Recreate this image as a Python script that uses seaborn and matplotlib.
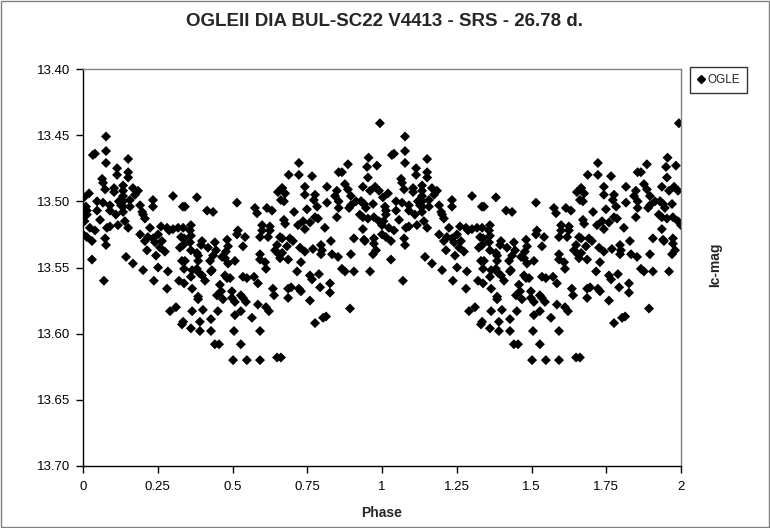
import numpy as np
import pandas as pd
import matplotlib
matplotlib.use("Agg")
import matplotlib.pyplot as plt
import seaborn as sns

# ── Data (phase 0-1; shown twice over 0-2) ──────────────────────────────
PHASE = [
    0.010, 0.013, 0.013, 0.020, 0.023, 0.013, 0.030, 0.033, 0.040, 0.030, 0.047, 0.047, 0.040, 0.057,
    0.064, 0.067, 0.067, 0.074, 0.070, 0.077, 0.077, 0.077, 0.074, 0.077, 0.080, 0.090, 0.090, 0.090,
    0.003, 0.005, 0.000,
    0.104, 0.104, 0.114, 0.114, 0.117, 0.127, 0.134, 0.134, 0.134, 0.134, 0.134, 0.134, 0.144, 0.151,
    0.151, 0.151, 0.151, 0.157, 0.157, 0.167, 0.167, 0.174, 0.184, 0.191, 0.191, 0.198, 0.120, 0.140,
    0.110,
    0.201, 0.201, 0.207, 0.207, 0.214, 0.217, 0.224, 0.234, 0.234, 0.234, 0.237, 0.241, 0.244, 0.251,
    0.251, 0.258, 0.261, 0.264, 0.274, 0.281, 0.281, 0.284, 0.288, 0.291, 0.301, 0.301, 0.311, 0.318,
    0.321, 0.328, 0.331, 0.331, 0.334, 0.324,
    0.381, 0.341, 0.415, 0.435, 0.335, 0.338, 0.335, 0.358, 0.361, 0.361, 0.358, 0.398, 0.395, 0.418,
    0.361, 0.381, 0.385, 0.441, 0.445, 0.435, 0.425, 0.428, 0.341, 0.338, 0.365, 0.361, 0.385, 0.381,
    0.398, 0.408, 0.388, 0.431, 0.338, 0.365, 0.385, 0.385, 0.365, 0.401, 0.451, 0.335, 0.361, 0.391,
    0.391, 0.428, 0.428, 0.441,
    0.515, 0.575, 0.582, 0.615, 0.632, 0.652, 0.666, 0.662, 0.518, 0.515, 0.542, 0.482, 0.485, 0.478,
    0.535, 0.599, 0.599, 0.592, 0.625, 0.625, 0.619, 0.659, 0.649, 0.642, 0.655, 0.659, 0.592, 0.592,
    0.609, 0.612, 0.465, 0.475, 0.485, 0.508, 0.475, 0.482, 0.492, 0.458, 0.448, 0.468, 0.462, 0.498,
    0.498, 0.508, 0.528, 0.535, 0.545, 0.535, 0.548, 0.572, 0.585, 0.585, 0.612, 0.635, 0.639, 0.528,
    0.508, 0.565, 0.622, 0.505, 0.592, 0.455, 0.528, 0.502, 0.548, 0.592, 0.649,
    0.993, 0.722, 0.688, 0.722, 0.766, 0.886, 0.955, 0.950, 0.983, 0.855, 0.866, 0.953, 0.666, 0.676,
    0.672, 0.742, 0.742, 0.776, 0.772, 0.816, 0.849, 0.843, 0.876, 0.886, 0.896, 0.936, 0.930, 0.960,
    0.977, 0.990, 0.816, 0.855, 0.855, 0.896, 0.890, 0.913, 0.930, 0.940, 0.946, 0.970, 0.706, 0.749,
    0.783, 0.672, 0.676, 0.719, 0.736, 0.759, 0.742, 0.776, 0.786, 0.809, 0.849, 0.926, 0.936, 0.953,
    0.973, 0.990, 1.000, 0.936, 0.666, 0.692, 0.702, 0.682, 0.666, 0.726, 0.742, 0.769, 0.796, 0.799,
    0.796, 0.829, 0.833, 0.853, 0.896, 0.906, 0.940, 0.973, 0.973, 0.980, 0.970, 0.943, 0.686, 0.729,
    0.716, 0.759, 0.766, 0.789, 0.866, 0.876, 0.906, 0.960, 0.686, 0.696, 0.722, 0.729, 0.686, 0.793,
    0.826, 0.826, 0.759, 0.893, 0.776, 0.803, 0.813, 0.662,
]
MAG = [
    13.504, 13.507, 13.510, 13.494, 13.520, 13.527, 13.530, 13.465, 13.464, 13.544, 13.500, 13.507, 13.522, 13.514,
    13.483, 13.486, 13.501, 13.491, 13.560, 13.451, 13.462, 13.471, 13.528, 13.533, 13.520, 13.503, 13.507, 13.519,
    13.497, 13.515, 13.525,
    13.490, 13.493, 13.475, 13.480, 13.518, 13.503, 13.488, 13.492, 13.496, 13.500, 13.504, 13.508, 13.542, 13.468,
    13.478, 13.482, 13.520, 13.499, 13.504, 13.490, 13.547, 13.495, 13.492, 13.503, 13.525, 13.508, 13.500, 13.515,
    13.510,
    13.552, 13.510, 13.513, 13.530, 13.537, 13.527, 13.520, 13.499, 13.504, 13.528, 13.560, 13.531, 13.541, 13.550,
    13.525, 13.535, 13.519, 13.530, 13.538, 13.566, 13.520, 13.553, 13.522, 13.583, 13.496, 13.521, 13.580, 13.520,
    13.560, 13.527, 13.545, 13.593, 13.504, 13.535,
    13.497, 13.504, 13.507, 13.508, 13.520, 13.528, 13.533, 13.522, 13.518, 13.526, 13.531, 13.530, 13.533, 13.535,
    13.537, 13.539, 13.541, 13.531, 13.537, 13.541, 13.545, 13.553, 13.545, 13.551, 13.552, 13.557, 13.545, 13.551,
    13.556, 13.560, 13.554, 13.552, 13.562, 13.566, 13.572, 13.574, 13.583, 13.582, 13.583, 13.591, 13.596, 13.591,
    13.598, 13.589, 13.598, 13.608,
    13.501, 13.505, 13.509, 13.505, 13.507, 13.493, 13.490, 13.499, 13.522, 13.525, 13.527, 13.529, 13.534, 13.538,
    13.534, 13.518, 13.522, 13.527, 13.519, 13.522, 13.527, 13.527, 13.533, 13.537, 13.540, 13.543, 13.540, 13.544,
    13.546, 13.551, 13.542, 13.543, 13.547, 13.545, 13.556, 13.558, 13.558, 13.563, 13.571, 13.574, 13.568, 13.568,
    13.573, 13.576, 13.571, 13.573, 13.576, 13.557, 13.558, 13.557, 13.562, 13.578, 13.580, 13.566, 13.571, 13.583,
    13.586, 13.588, 13.583, 13.598, 13.598, 13.608, 13.608, 13.620, 13.620, 13.620, 13.618,
    13.441, 13.471, 13.480, 13.480, 13.481, 13.472, 13.467, 13.474, 13.473, 13.478, 13.478, 13.482, 13.490, 13.494,
    13.500, 13.489, 13.495, 13.495, 13.499, 13.489, 13.492, 13.496, 13.487, 13.491, 13.496, 13.489, 13.500, 13.492,
    13.489, 13.492, 13.501, 13.500, 13.505, 13.503, 13.505, 13.500, 13.500, 13.502, 13.505, 13.502, 13.508, 13.506,
    13.504, 13.514, 13.517, 13.518, 13.515, 13.516, 13.521, 13.512, 13.513, 13.520, 13.512, 13.510, 13.512, 13.513,
    13.512, 13.515, 13.518, 13.521, 13.528, 13.528, 13.530, 13.534, 13.539, 13.535, 13.538, 13.536, 13.533, 13.537,
    13.540, 13.530, 13.540, 13.542, 13.540, 13.528, 13.529, 13.528, 13.532, 13.537, 13.540, 13.530, 13.544, 13.546,
    13.553, 13.556, 13.559, 13.555, 13.551, 13.553, 13.553, 13.553, 13.566, 13.565, 13.566, 13.568, 13.573, 13.565,
    13.562, 13.569, 13.575, 13.581, 13.592, 13.588, 13.587, 13.618,
]

X_TICKS = [0, 0.25, 0.5, 0.75, 1, 1.25, 1.5, 1.75, 2]
X_TICK_LABELS = ["0", "0.25", "0.5", "0.75", "1", "1.25", "1.5", "1.75", "2"]
Y_TICKS = [13.40, 13.45, 13.50, 13.55, 13.60, 13.65, 13.70]

# two cycles, as in the original phase plot
df = pd.DataFrame({"phase": PHASE, "mag": MAG})
df = pd.concat([df, df.assign(phase=df["phase"] + 1)], ignore_index=True)

# ── Style ──────────────────────────────────────────────────────────────
sns.set_theme(style="white")
plt.rcParams["font.family"] = ["Liberation Sans", "DejaVu Sans"]

fig = plt.figure(figsize=(7.7, 5.28), dpi=100)
ax = fig.add_axes([83 / 770, 1 - 466 / 528, 598 / 770, 397 / 528])

sns.scatterplot(data=df, x="phase", y="mag", ax=ax, marker="D", s=26,
                color="black", edgecolor="none", legend=False)

ax.set_xlim(0, 2)
ax.set_ylim(13.70, 13.40)
ax.set_xticks(X_TICKS)
ax.set_xticklabels(X_TICK_LABELS)
ax.set_yticks(Y_TICKS)
ax.set_yticklabels([f"{v:.2f}" for v in Y_TICKS])
ax.tick_params(axis="both", direction="out", length=5, width=1, colors="black",
               labelsize=9.5, left=True, bottom=True)
ax.tick_params(axis="x", pad=6)
ax.tick_params(axis="y", pad=4)

for side in ["left", "bottom"]:
    ax.spines[side].set_color("black")
    ax.spines[side].set_linewidth(1)
for side in ["top", "right"]:
    ax.spines[side].set_color("#808080")
    ax.spines[side].set_linewidth(1)

ax.set_xlabel("Phase", fontsize=10, fontweight="bold", labelpad=9)
ax.set_ylabel("")
fig.text(715 / 770, 1 - 265 / 528, "Ic-mag", rotation=90, ha="center", va="center",
         fontsize=10, fontweight="bold")

fig.suptitle("OGLEII DIA BUL-SC22 V4413 - SRS - 26.78 d.", x=0.5, y=1 - 22 / 528,
             va="center", fontsize=13.5, fontweight="bold")

# legend box
handles = [plt.Line2D([], [], marker="D", color="black", linestyle="none", markersize=4)]
fig.legend(handles, ["OGLE"], loc="upper left", bbox_to_anchor=(690 / 770, 1 - 67 / 528),
           frameon=True, fancybox=False, edgecolor="black", fontsize=8.5,
           handlelength=0.6, handletextpad=0.25, borderpad=0.6, borderaxespad=0)

# outer border
fig.patches.append(plt.Rectangle((0.001, 0.001), 0.998, 0.997, transform=fig.transFigure,
                                 fill=False, edgecolor="#808080", linewidth=1))

fig.savefig("out.png", dpi=100)
